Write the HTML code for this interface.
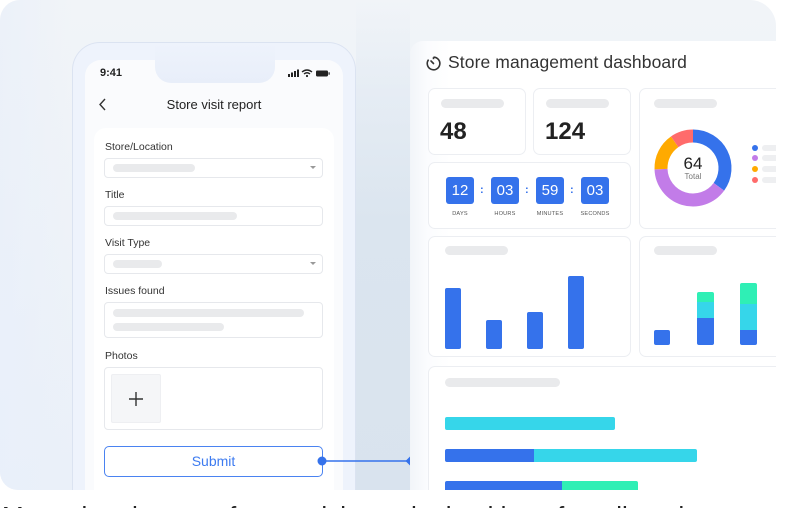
<!DOCTYPE html>
<html><head><meta charset="utf-8"><style>
*{margin:0;padding:0;box-sizing:border-box}
body{width:811px;height:508px;overflow:hidden;background:#fff;font-family:"Liberation Sans",sans-serif;position:relative}
.a{position:absolute}
.bar{position:absolute;background:#e9eaec;border-radius:5px}
.lbl{position:absolute;left:105px;font-size:10.5px;color:#333;line-height:12px}
.box{position:absolute;left:104px;width:219px;border:1px solid #e6e8ec;border-radius:4px;background:#fff}
.card{position:absolute;background:#fff;border:1px solid #eceef2;border-radius:7px}
.cd{position:absolute;top:177px;width:28px;height:27px;background:#3572eb;border-radius:3px;color:#fff;font-size:15px;line-height:27px;text-align:center}
.cl{position:absolute;top:184px;font-size:11px;color:#3572eb;font-weight:bold}
.cdl{position:absolute;top:211px;font-size:5.6px;color:#555;letter-spacing:.2px;width:40px;text-align:center}
.vb{position:absolute;border-radius:2px}
</style></head><body>
<!-- background card -->
<div class="a" style="left:0;top:0;width:776px;height:490px;border-radius:20px 26px 0 18px;background:linear-gradient(180deg,#f1f4f8 0%,#eff3f8 30%,#eaf0f9 100%);overflow:hidden">
  <div class="a" style="left:0;top:0;width:72px;height:490px;background:linear-gradient(90deg,rgba(232,239,250,0.6),rgba(238,243,252,0))"></div>
  <div class="a" style="left:356px;top:0;width:54px;height:490px;background:linear-gradient(180deg,rgba(220,230,240,0) 0,rgba(220,230,240,0.5) 90px,#dbe5ef 220px,#d9e3ee)"></div>
</div>
<!-- phone frame -->
<div class="a" style="left:72px;top:42px;width:284px;height:448px;border:1px solid #dbe3f1;border-bottom:none;border-radius:28px 28px 0 0;background:#eef3fc"></div>
<!-- screen -->
<div class="a" style="left:85px;top:60px;width:258px;height:430px;border-radius:16px 16px 0 0;background:#fafbfd"></div>
<div class="a" style="left:155px;top:43px;width:120px;height:40px;border-radius:0 0 16px 16px;background:linear-gradient(180deg,#eef3fc,#e8eef9)"></div>
<div class="a" style="left:100px;top:67px;font-size:11px;font-weight:bold;color:#222">9:41</div>
<svg class="a" style="left:288px;top:68px" width="44" height="10" viewBox="0 0 44 10">
  <rect x="0" y="6" width="2" height="3" fill="#222"/><rect x="3" y="4.5" width="2" height="4.5" fill="#222"/><rect x="6" y="3" width="2" height="6" fill="#222"/><rect x="9" y="1.5" width="2" height="7.5" fill="#222"/>
  <path d="M14 4 Q19 0 24 4" stroke="#222" stroke-width="1.4" fill="none"/><path d="M16 6 Q19 3.5 22 6" stroke="#222" stroke-width="1.4" fill="none"/><circle cx="19" cy="8" r="1.1" fill="#222"/>
  <rect x="28" y="2.5" width="12" height="6" rx="1.2" fill="#222"/><rect x="40.5" y="4.3" width="1.2" height="2.4" fill="#222"/>
</svg>
<svg class="a" style="left:98px;top:97px" width="10" height="16"><path d="M7 2 L2 7.5 L7 13" stroke="#333" stroke-width="1.4" fill="none"/></svg>
<div class="a" style="left:162px;top:97px;font-size:13px;color:#222;width:104px;text-align:center">Store visit report</div>
<!-- form card -->
<div class="a" style="left:94px;top:128px;width:240px;height:362px;border-radius:12px 12px 0 0;background:#fff"></div>
<div class="lbl" style="top:141px">Store/Location</div>
<div class="box" style="top:158px;height:20px"></div>
<div class="bar" style="left:113px;top:164px;width:82px;height:8px"></div>
<div class="a" style="left:310px;top:166px;width:0;height:0;border-left:3px solid transparent;border-right:3px solid transparent;border-top:3.5px solid #999"></div>
<div class="lbl" style="top:189px">Title</div>
<div class="box" style="top:206px;height:20px"></div>
<div class="bar" style="left:113px;top:212px;width:124px;height:8px"></div>
<div class="lbl" style="top:237px">Visit Type</div>
<div class="box" style="top:254px;height:20px"></div>
<div class="bar" style="left:113px;top:260px;width:49px;height:8px"></div>
<div class="a" style="left:310px;top:262px;width:0;height:0;border-left:3px solid transparent;border-right:3px solid transparent;border-top:3.5px solid #999"></div>
<div class="lbl" style="top:285px">Issues found</div>
<div class="box" style="top:302px;height:36px"></div>
<div class="bar" style="left:113px;top:309px;width:191px;height:8px"></div>
<div class="bar" style="left:113px;top:323px;width:111px;height:8px"></div>
<div class="lbl" style="top:350px">Photos</div>
<div class="box" style="top:367px;height:63px"></div>
<div class="a" style="left:111px;top:374px;width:50px;height:49px;background:#f5f6f8;border:1px solid #eeeff2;border-radius:2px"></div>
<svg class="a" style="left:128px;top:391px" width="16" height="16"><path d="M8 1V15M1 8H15" stroke="#333" stroke-width="1.4"/></svg>
<div class="a" style="left:104px;top:446px;width:219px;height:31px;border:1.2px solid #4a83f1;border-radius:5px;background:#fff;color:#3d7bf0;font-size:14px;text-align:center;line-height:29px">Submit</div>
<svg class="a" style="left:314px;top:453px" width="104" height="16">
  <line x1="8" y1="8" x2="96" y2="8" stroke="#3572eb" stroke-width="1.5"/>
  <circle cx="8" cy="8" r="4.5" fill="#3572eb"/>
  <path d="M96 3.5 L100.5 8 L96 12.5 L91.5 8Z" fill="#3572eb"/>
</svg>
<!-- dashboard panel -->
<div class="a" style="left:410px;top:41px;width:366px;height:449px;border-radius:13px 0 0 0;background:linear-gradient(90deg,#f2f5f9,#fbfcfe 18px,#fff 40px)"></div>
<svg class="a" style="left:425px;top:55px" width="17" height="17" viewBox="0 0 17 17">
  <path d="M8.5 2.2 A6.3 6.3 0 1 1 3.6 4.6" stroke="#333" stroke-width="1.6" fill="none"/>
  <path d="M8.5 2.2 V4.2" stroke="#333" stroke-width="1.6"/>
  <path d="M8.5 8.5 L6 6" stroke="#333" stroke-width="1.6" stroke-linecap="round"/>
</svg>
<div class="a" style="left:448px;top:52px;font-size:17.5px;color:#333;letter-spacing:.1px">Store management dashboard</div>
<!-- cards -->
<div class="card" style="left:428px;top:88px;width:98px;height:67px"></div>
<div class="bar" style="left:441px;top:99px;width:63px;height:9px"></div>
<div class="a" style="left:440px;top:118px;font-size:24px;font-weight:bold;color:#222">48</div>
<div class="card" style="left:533px;top:88px;width:98px;height:67px"></div>
<div class="bar" style="left:546px;top:99px;width:63px;height:9px"></div>
<div class="a" style="left:545px;top:118px;font-size:24px;font-weight:bold;color:#222">124</div>
<div class="card" style="left:428px;top:162px;width:203px;height:67px"></div>
<div class="cd" style="left:446px">12</div><div class="cl" style="left:480px">:</div>
<div class="cd" style="left:491px">03</div><div class="cl" style="left:525px">:</div>
<div class="cd" style="left:536px">59</div><div class="cl" style="left:570px">:</div>
<div class="cd" style="left:581px">03</div>
<div class="cdl" style="left:440px">DAYS</div>
<div class="cdl" style="left:485px">HOURS</div>
<div class="cdl" style="left:530px">MINUTES</div>
<div class="cdl" style="left:575px">SECONDS</div>
<!-- donut card -->
<div class="card" style="left:639px;top:88px;width:150px;height:141px"></div>
<div class="bar" style="left:654px;top:99px;width:63px;height:9px"></div>
<svg class="a" style="left:653px;top:128px" width="80" height="80" viewBox="-40 -40 80 80">
  <g fill="none" stroke-width="13">
    <path d="M0,-32 A32,32 0 0 1 25.89,18.81" stroke="#3572eb"/>
    <path d="M25.89,18.81 A32,32 0 0 1 -31.98,1.12" stroke="#c27ce8"/>
    <path d="M-31.98,1.12 A32,32 0 0 1 -18.35,-26.21" stroke="#ffaa00"/>
    <path d="M-18.35,-26.21 A32,32 0 0 1 0,-32" stroke="#ff6b6b"/>
  </g>
</svg>
<div class="a" style="left:673px;top:154px;width:40px;text-align:center;font-size:17px;color:#222">64</div>
<div class="a" style="left:673px;top:172px;width:40px;text-align:center;font-size:8px;color:#777">Total</div>
<div class="a" style="left:752px;top:145px;width:6px;height:6px;border-radius:3px;background:#3572eb"></div>
<div class="a" style="left:752px;top:155px;width:6px;height:6px;border-radius:3px;background:#c27ce8"></div>
<div class="a" style="left:752px;top:166px;width:6px;height:6px;border-radius:3px;background:#ffaa00"></div>
<div class="a" style="left:752px;top:177px;width:6px;height:6px;border-radius:3px;background:#ff6b6b"></div>
<div class="bar" style="left:762px;top:145px;width:30px;height:6px;background:#eeeff1"></div>
<div class="bar" style="left:762px;top:155px;width:30px;height:6px;background:#eeeff1"></div>
<div class="bar" style="left:762px;top:166px;width:30px;height:6px;background:#eeeff1"></div>
<div class="bar" style="left:762px;top:177px;width:30px;height:6px;background:#eeeff1"></div>
<!-- bar chart card -->
<div class="card" style="left:428px;top:236px;width:203px;height:121px"></div>
<div class="bar" style="left:445px;top:246px;width:63px;height:9px"></div>
<div class="vb" style="left:445px;top:288px;width:16px;height:61px;background:#3572eb"></div>
<div class="vb" style="left:486px;top:320px;width:16px;height:29px;background:#3572eb"></div>
<div class="vb" style="left:527px;top:312px;width:16px;height:37px;background:#3572eb"></div>
<div class="vb" style="left:568px;top:276px;width:16px;height:73px;background:#3572eb"></div>
<!-- stacked card -->
<div class="card" style="left:639px;top:236px;width:150px;height:121px"></div>
<div class="bar" style="left:654px;top:246px;width:63px;height:9px"></div>
<div class="vb" style="left:654px;top:330px;width:16px;height:15px;background:#3572eb"></div>
<div class="vb" style="left:697px;top:292px;width:17px;height:53px;background:linear-gradient(180deg,#2fefb5 0,#2fefb5 10px,#36d6ea 10px,#36d6ea 26px,#3572eb 26px)"></div>
<div class="vb" style="left:740px;top:283px;width:17px;height:62px;background:linear-gradient(180deg,#2fefb5 0,#2fefb5 21px,#36d6ea 21px,#36d6ea 47px,#3572eb 47px)"></div>
<!-- horizontal bar card -->
<div class="card" style="left:428px;top:366px;width:370px;height:140px;border-bottom:none"></div>
<div class="bar" style="left:445px;top:378px;width:115px;height:9px"></div>
<div class="vb" style="left:445px;top:417px;width:170px;height:13px;background:#36d6ea"></div>
<div class="vb" style="left:445px;top:449px;width:252px;height:13px;background:linear-gradient(90deg,#3572eb 0,#3572eb 89px,#36d6ea 89px)"></div>
<div class="vb" style="left:445px;top:481px;width:193px;height:13px;background:linear-gradient(90deg,#3572eb 0,#3572eb 117px,#2fefb5 117px)"></div>
<!-- clip everything below 490 and right of 776 -->
<div class="a" style="left:776px;top:0;width:35px;height:508px;background:#fff"></div>
<div class="a" style="left:0;top:490px;width:811px;height:18px;background:#fff;overflow:hidden">
  <div class="a" style="left:2px;top:13px;font-size:26px;line-height:26px;color:#222;white-space:nowrap">Managing dozens of store visits and a backlog of retailers that connects</div>
</div>
</body></html>
